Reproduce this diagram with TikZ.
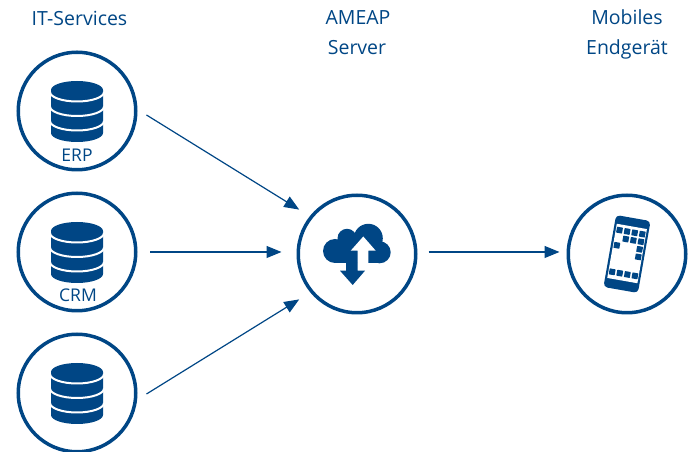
\documentclass[tikz,border=0pt]{standalone}
\usepackage{fontspec}
\setmainfont{Open Sans}
\usetikzlibrary{arrows.meta}
\definecolor{ameapblue}{HTML}{004685}

\tikzset{
  dbicon/.pic={
    \fill[ameapblue] (-26,21) arc (180:0:26 and 9) -- (26,-22) arc (0:-180:26 and 9) -- cycle;
    \foreach \y in {19,4.5,-10}
      \draw[white,line width=2pt] (-27,\y) arc (180:360:27 and 9.5);
  },
  cloudicon/.pic={
    \fill[ameapblue] (-22,3) circle (12) (-10,15.7) circle (9.5) (11.3,15.7) circle (14.5) (22.7,1.7) circle (11);
    \fill[ameapblue] (-22,-9.3) rectangle (22.7,8);
    \fill[ameapblue] (-10,8) rectangle (18,16);
    % arrow going up, left open in the cloud
    \fill[white] (6.3,17.5) -- (18.7,3.3) -- (11.3,3.3) -- (11.3,-9.4) -- (0.7,-9.4) -- (0.7,3.3) -- (-6.3,3.3) -- cycle;
    % arrow going down
    \fill[ameapblue] (-11,-9) -- (0.7,-9) -- (0.7,-16.7) -- (8,-16.7) -- (-4.3,-31) -- (-17,-16.7) -- (-11,-16.7) -- cycle;
  },
  phoneicon/.pic={
    \begin{scope}[rotate=-10]
      \fill[ameapblue,rounded corners=4pt] (-17.5,-36.5) rectangle (17.5,36.5);
      \fill[white] (-15.3,-27) rectangle (15.3,28);
      \foreach \c/\r in {0/0,1/0,2/0,3/0,1/1,2/1,3/1,0/2,3/2,3/3,0/5.5,1/5.5,2/5.5,3/5.5}
        \fill[ameapblue,rounded corners=0.5pt] (-14.5+7.7*\c,19.2-7.7*\r) rectangle +(6,6);
    \end{scope}
  }
}

\begin{document}
\begin{tikzpicture}[x=1pt,y=1pt,node distance=141pt,
    hub/.style={circle,draw=ameapblue,line width=3.5pt,minimum size=117.5pt,inner sep=0pt},
    caption/.style={text=ameapblue,font=\fontsize{17.5}{20}\selectfont,inner sep=0pt},
    headline/.style={text=ameapblue,font=\fontsize{19.5}{22}\selectfont,inner sep=0pt,text height=14pt,text depth=4pt},
    link/.style={draw=ameapblue,line width=1.2pt,->,>={Triangle[length=15pt,width=12pt]}}]

  \useasboundingbox (0,0) rectangle (694,452);

  \node[hub]                 (erp) at (77,341) {};
  \node[hub]                 (crm) [below of=erp] {};
  \node[hub]                 (db)  [below of=crm] {};
  \node[hub]                 (srv) [right of=crm,node distance=280pt,yshift=-2pt] {};
  \node[hub]                 (phone) [right of=srv,node distance=270pt] {};

  \pic at (erp) {dbicon};
  \pic at (crm) {dbicon};
  \pic at (db) {dbicon};
  \pic at (srv) {cloudicon};
  \pic at (phone) {phoneicon};

  \node[caption]  (erptext) [below of=erp,node distance=44pt] {ERP};
  \node[caption]  (crmtext) [below of=crm,node distance=43pt,xshift=1pt] {CRM};
  \node[headline] (ittext)  [above of=erp,node distance=90.5pt,xshift=2.5pt] {IT-Services};
  \node[headline] (srvtext) [above of=srv,node distance=204pt] {Server};
  \node[headline] (ametext) [above of=srvtext,node distance=30pt,xshift=1pt] {AMEAP};
  \node[headline] (endtext) [above of=phone,node distance=204pt] {Endgerät};
  \node[headline] (mobtext) [above of=endtext,node distance=30.5pt] {Mobiles};

  \path ([shift={(9,-4)}]erp.east) edge [link] ([shift={(-15,1.6)}]srv.135)
        ([xshift=12.5pt,yshift=0pt]crm.east) edge [link] ([xshift=-15pt,yshift=2pt]srv.west)
        ([shift={(9,-1)}]db.east) edge [link] ([shift={(-15,-2.6)}]srv.225)
        ([xshift=11pt,yshift=2pt]srv.east) edge [link] ([xshift=-7pt,yshift=2pt]phone.west)
        ;
\end{tikzpicture}
\end{document}
